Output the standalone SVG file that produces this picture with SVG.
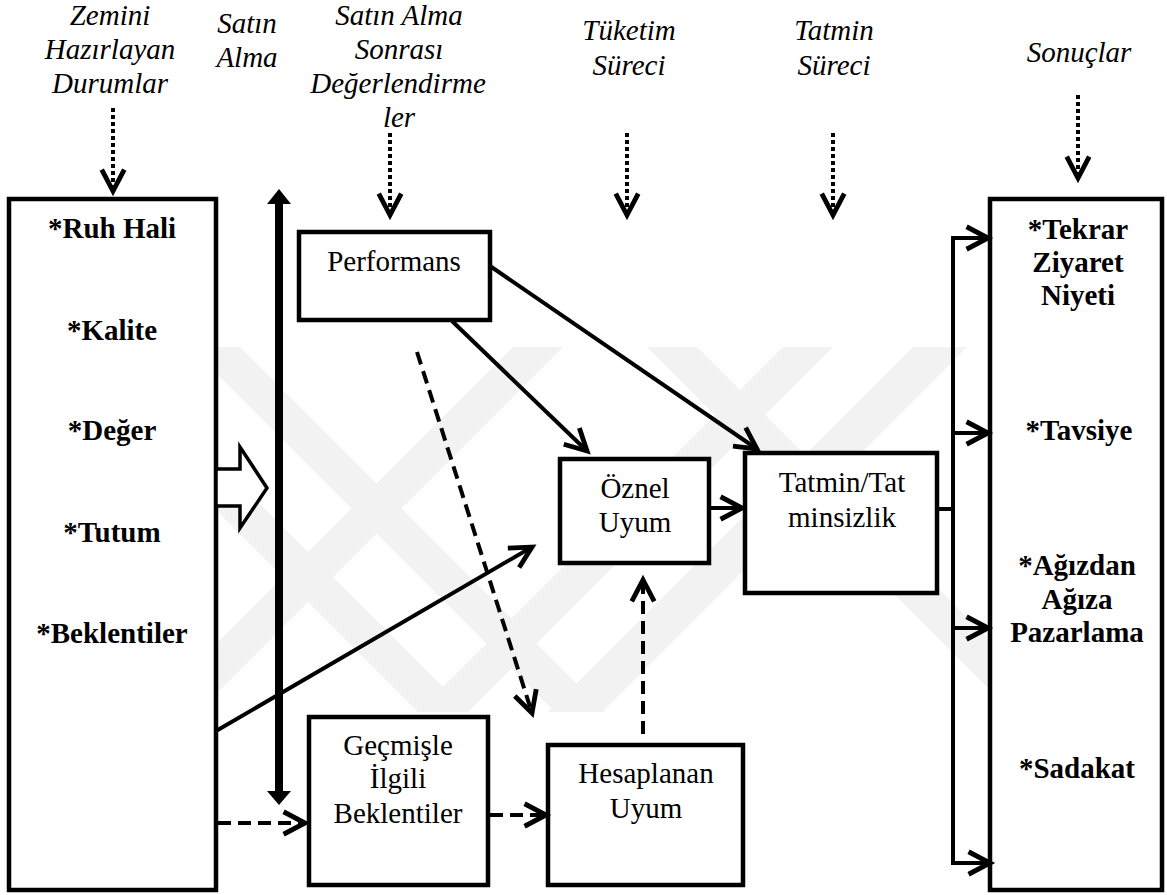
<svg xmlns="http://www.w3.org/2000/svg" width="1167" height="895" viewBox="0 0 1167 895">
  <defs>
    <style>
      text { font-family: "Liberation Serif", "Times New Roman", serif; font-size: 29px; fill: #000; text-anchor: middle; }
      .hd { font-style: italic; }
      .bd { font-weight: bold; }
      .box { fill: #fff; stroke: #000; stroke-width: 4.5; }
      .ln { fill: none; stroke: #000; stroke-width: 4; }
      .dash { fill: none; stroke: #000; stroke-width: 4; stroke-dasharray: 13 7; }
      .dot { fill: none; stroke: #000; stroke-width: 4; stroke-dasharray: 4 3; }
      .wm { fill: #f2f2f2; }
    </style>
    <marker id="open" markerUnits="userSpaceOnUse" markerWidth="30" markerHeight="30" viewBox="-24 -13 28 26" refX="0" refY="0" orient="auto" overflow="visible">
      <path d="M-20,-10.5 L0,0 L-20,10.5" fill="none" stroke="#000" stroke-width="4.5" stroke-dasharray="none" stroke-linejoin="miter"/>
    </marker>
    <clipPath id="wmclip">
      <rect x="40" y="347" width="1090" height="366"/>
    </clipPath>
  </defs>

  <rect width="1167" height="895" fill="#fff"/>

  <!-- faint background mark: diagonal bands -->
  <g id="watermark" clip-path="url(#wmclip)">
    <polygon class="wm" points="53,347 103,347 468,712 418,712"/>
    <polygon class="wm" points="190,347 240,347 605,712 555,712"/>
    <polygon class="wm" points="513,347 563,347 198,712 148,712"/>
    <polygon class="wm" points="647,347 697,347 1062,712 1012,712"/>
    <polygon class="wm" points="783,347 833,347 468,712 418,712"/>
    <polygon class="wm" points="913,347 967,347 602,712 548,712"/>
  </g>

  <!-- column headings -->
  <g id="headings">
    <text class="hd" x="110" y="25">Zemini</text>
    <text class="hd" x="110" y="59">Hazırlayan</text>
    <text class="hd" x="110" y="93">Durumlar</text>
    <text class="hd" x="247" y="33">Satın</text>
    <text class="hd" x="247" y="67">Alma</text>
    <text class="hd" x="399" y="25">Satın Alma</text>
    <text class="hd" x="399" y="59">Sonrası</text>
    <text class="hd" x="398" y="93">Değerlendirme</text>
    <text class="hd" x="399" y="127">ler</text>
    <text class="hd" x="629" y="40">Tüketim</text>
    <text class="hd" x="629" y="75">Süreci</text>
    <text class="hd" x="834" y="40">Tatmin</text>
    <text class="hd" x="834" y="75">Süreci</text>
    <text class="hd" x="1079" y="62">Sonuçlar</text>
  </g>

  <!-- left column box -->
  <g id="on-kosullar">
    <rect class="box" x="9" y="199" width="207" height="691"/>
    <text class="bd" x="112" y="238">*Ruh Hali</text>
    <text class="bd" x="112" y="340">*Kalite</text>
    <text class="bd" x="112" y="440">*Değer</text>
    <text class="bd" x="112" y="542">*Tutum</text>
    <text class="bd" x="112" y="643">*Beklentiler</text>
  </g>

  <g id="performans">
    <rect class="box" x="299" y="232" width="191" height="88"/>
    <text x="394" y="271">Performans</text>
  </g>

  <g id="oznel-uyum">
    <rect class="box" x="560" y="459" width="149" height="104"/>
    <text x="635" y="498">Öznel</text>
    <text x="635" y="532">Uyum</text>
  </g>

  <g id="tatmin">
    <rect class="box" x="745" y="453" width="192" height="140"/>
    <text x="842" y="492">Tatmin/Tat</text>
    <text x="842" y="527">minsizlik</text>
  </g>

  <g id="gecmis-beklentiler">
    <rect class="box" x="309" y="717" width="179" height="168"/>
    <text x="398" y="755">Geçmişle</text>
    <text x="398" y="788">İlgili</text>
    <text x="398" y="823">Beklentiler</text>
  </g>

  <g id="hesaplanan-uyum">
    <rect class="box" x="548" y="745" width="195" height="140"/>
    <text x="646" y="783">Hesaplanan</text>
    <text x="646" y="818">Uyum</text>
  </g>

  <g id="sonuclar">
    <rect class="box" x="990" y="199" width="172" height="691"/>
    <text class="bd" x="1078" y="239">*Tekrar</text>
    <text class="bd" x="1078" y="272">Ziyaret</text>
    <text class="bd" x="1078" y="305">Niyeti</text>
    <text class="bd" x="1079" y="440">*Tavsiye</text>
    <text class="bd" x="1077" y="575">*Ağızdan</text>
    <text class="bd" x="1077" y="609">Ağıza</text>
    <text class="bd" x="1077" y="642">Pazarlama</text>
    <text class="bd" x="1077" y="778">*Sadakat</text>
  </g>

  <g id="connectors">
    <!-- dotted heading pointers -->
    <line class="dot" x1="113" y1="108" x2="113" y2="191" marker-end="url(#open)"/>
    <line class="dot" x1="390" y1="133" x2="390" y2="215" marker-end="url(#open)"/>
    <line class="dot" x1="627" y1="133" x2="627" y2="215" marker-end="url(#open)"/>
    <line class="dot" x1="833" y1="133" x2="833" y2="215" marker-end="url(#open)"/>
    <line class="dot" x1="1078" y1="95" x2="1078" y2="178" marker-end="url(#open)"/>

    <!-- purchase timeline: thick double-headed bar -->
    <line x1="279" y1="200" x2="279" y2="795" stroke="#000" stroke-width="8"/>
    <polygon points="279,189 291,204 267,204"/>
    <polygon points="279,805 291,791 267,791"/>

    <!-- hollow block arrow -->
    <polygon points="216,469 240,469 240,447 267,488 240,528 240,506 216,506" fill="#fff" stroke="#000" stroke-width="3.5" stroke-linejoin="miter"/>

    <!-- solid links -->
    <line class="ln" x1="490" y1="266" x2="757" y2="449" marker-end="url(#open)"/>
    <line class="ln" x1="452" y1="321" x2="587" y2="451" marker-end="url(#open)"/>
    <line class="ln" x1="216" y1="731" x2="532" y2="547" marker-end="url(#open)"/>
    <line class="ln" x1="709" y1="508" x2="742" y2="508" marker-end="url(#open)"/>

    <!-- outcome bus -->
    <polyline class="ln" points="937,509 953,509"/>
    <line class="ln" x1="953" y1="236" x2="953" y2="865"/>
    <line class="ln" x1="951" y1="238" x2="988" y2="238" marker-end="url(#open)"/>
    <line class="ln" x1="953" y1="433" x2="988" y2="433" marker-end="url(#open)"/>
    <line class="ln" x1="953" y1="628" x2="988" y2="628" marker-end="url(#open)"/>
    <line class="ln" x1="951" y1="863" x2="990" y2="863" marker-end="url(#open)"/>

    <!-- dashed links -->
    <line class="dash" x1="417" y1="352" x2="532" y2="713" marker-end="url(#open)"/>
    <line class="dash" x1="643" y1="734" x2="643" y2="580" marker-end="url(#open)"/>
    <line class="dash" x1="218" y1="823" x2="305" y2="823" marker-end="url(#open)"/>
    <line class="dash" x1="490" y1="815" x2="546" y2="815" marker-end="url(#open)"/>
  </g>
</svg>
